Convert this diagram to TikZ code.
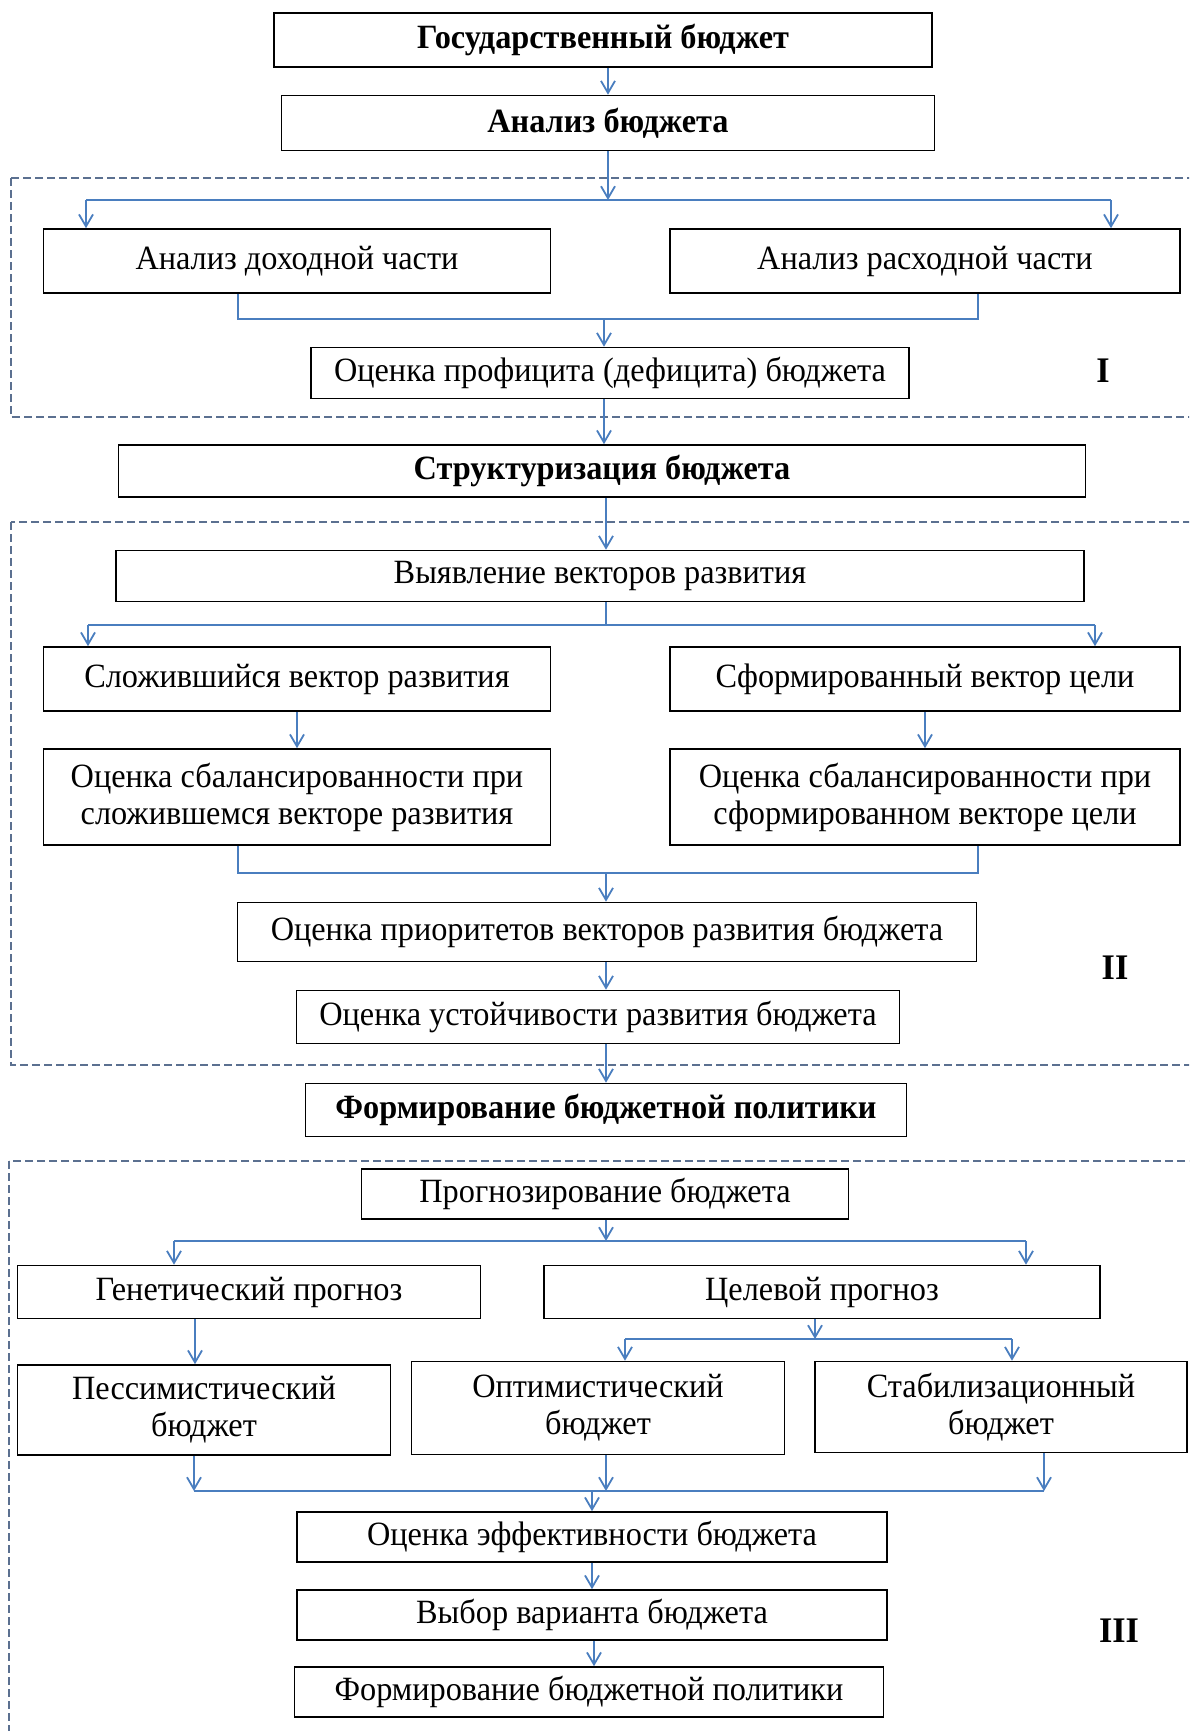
\documentclass[tikz,border=0pt]{standalone}
\usepackage{fontspec}
\setmainfont[FakeStretch=0.95]{Liberation Serif}
\usetikzlibrary{arrows.meta}
\definecolor{linkblue}{HTML}{4A7EBF}
\definecolor{framegray}{HTML}{5B7090}

\begin{document}
\begin{tikzpicture}[x=1pt, y=-1pt,
  box/.style={draw=black, line width=1.6pt, align=center, inner sep=2pt,
    font=\fontsize{34}{37}\selectfont},
  hbox/.style={box, font=\fontsize{34}{37}\selectfont\bfseries},
  line/.style={draw=linkblue, line width=1.8pt},
  arr/.style={line, -{Straight Barb[length=12pt,width=14pt]}},
  frame/.style={draw=framegray, line width=1.4pt, dash pattern=on 8pt off 4pt},
  stage/.style={font=\fontsize{36}{40}\selectfont\bfseries}]

\useasboundingbox (0,0) rectangle (1189,1731);
\clip (0,0) rectangle (1189,1731);

% stage frames
\draw[frame] (11,178) rectangle (1210,417);
\draw[frame] (11,522) rectangle (1210,1065);
\draw[frame] (9,1161) rectangle (1210,1760);

\node (I) at (1103,371) [stage] {I};
\node (II) at (1115,968) [stage] {II};
\node (III) at (1119,1631) [stage] {III};

% stage I
\node (gos) at (603,40) [hbox, minimum width=658pt, minimum height=54pt] {Государственный бюджет};
\node (anb) at (608,123) [hbox, minimum width=653pt, minimum height=55pt] {Анализ бюджета};
\node (doh) at (297,261) [box, minimum width=507pt, minimum height=64pt] {Анализ доходной части};
\node (ras) at (925,261) [box, minimum width=510pt, minimum height=64pt] {Анализ расходной части};
\node (prof) at (610,373) [box, minimum width=598pt, minimum height=51pt] {Оценка профицита (дефицита) бюджета};

\coordinate (s1) at (608,200);
\coordinate (s1l) at (86,200);
\coordinate (s1r) at (1111,200);
\coordinate (j1) at (604,319);
\coordinate (j1l) at (238,319);
\coordinate (j1r) at (978,319);

\draw[arr] (gos.south -| anb.north) -- (anb.north);
\draw[arr] (anb.south) -- (s1);
\draw[line] (s1l) -- (s1r);
\draw[arr] (s1l) -- (s1l |- doh.north);
\draw[arr] (s1r) -- (s1r |- ras.north);
\draw[line] (doh.south -| j1l) -- (j1l) -- (j1r) -- (ras.south -| j1r);
\draw[arr] (j1) -- (j1 |- prof.north);

% stage II
\node (str) at (602,471) [hbox, minimum width=967pt, minimum height=52pt] {Структуризация бюджета};
\node (vyav) at (600,576) [box, minimum width=968pt, minimum height=51pt] {Выявление векторов развития};
\node (slozh) at (297,679) [box, minimum width=507pt, minimum height=64pt] {Сложившийся вектор развития};
\node (sform) at (925,679) [box, minimum width=510pt, minimum height=64pt] {Сформированный вектор цели};
\node (obal1) at (297,797) [box, minimum width=507pt, minimum height=96pt] {Оценка сбалансированности при\\сложившемся векторе развития};
\node (obal2) at (925,797) [box, minimum width=510pt, minimum height=96pt] {Оценка сбалансированности при\\сформированном векторе цели};
\node (prior) at (607,932) [box, minimum width=739pt, minimum height=59pt] {Оценка приоритетов векторов развития бюджета};
\node (ust) at (598,1017) [box, minimum width=603pt, minimum height=53pt] {Оценка устойчивости развития бюджета};

\coordinate (s2) at (606,625);
\coordinate (s2l) at (88,625);
\coordinate (s2r) at (1095,625);
\coordinate (j2) at (606,873);
\coordinate (j2l) at (238,873);
\coordinate (j2r) at (978,873);

\draw[arr] (prof.south -| j1) -- (str.north -| j1);
\draw[arr] (str.south -| s2) -- (vyav.north -| s2);
\draw[line] (vyav.south -| s2) -- (s2);
\draw[line] (s2l) -- (s2r);
\draw[arr] (s2l) -- (s2l |- slozh.north);
\draw[arr] (s2r) -- (s2r |- sform.north);
\draw[arr] (slozh) -- (obal1);
\draw[arr] (sform) -- (obal2);
\draw[line] (obal1.south -| j2l) -- (j2l) -- (j2r) -- (obal2.south -| j2r);
\draw[arr] (j2) -- (j2 |- prior.north);
\draw[arr] (prior.south -| j2) -- (ust.north -| j2);

% stage III
\node (form) at (606,1110) [hbox, minimum width=601pt, minimum height=53pt] {Формирование бюджетной политики};
\node (progn) at (605,1194) [box, minimum width=487pt, minimum height=50pt] {Прогнозирование бюджета};
\node (gen) at (249,1292) [box, minimum width=463pt, minimum height=53pt] {Генетический прогноз};
\node (cel) at (822,1292) [box, minimum width=556pt, minimum height=53pt] {Целевой прогноз};
\node (pes) at (204,1410) [box, minimum width=373pt, minimum height=90pt] {Пессимистический\\бюджет};
\node (opt) at (598,1408) [box, minimum width=373pt, minimum height=93pt] {Оптимистический\\бюджет};
\node (stab) at (1001,1407) [box, minimum width=372pt, minimum height=91pt] {Стабилизационный\\бюджет};
\node (eff) at (592,1537) [box, minimum width=590pt, minimum height=50pt] {Оценка эффективности бюджета};
\node (vyb) at (592,1615) [box, minimum width=590pt, minimum height=50pt] {Выбор варианта бюджета};
\node (form2) at (589,1692) [box, minimum width=589pt, minimum height=50pt] {Формирование бюджетной политики};

\coordinate (s3) at (606,1241);
\coordinate (s3l) at (174,1241);
\coordinate (s3r) at (1026,1241);
\coordinate (s4) at (815,1339);
\coordinate (s4l) at (625,1339);
\coordinate (s4r) at (1012,1339);
\coordinate (j3) at (592,1491);
\coordinate (j3l) at (194,1491);
\coordinate (j3m) at (606,1491);
\coordinate (j3r) at (1044,1491);

\draw[arr] (ust.south -| j2) -- (form.north -| j2);
\draw[arr] (progn.south -| s3) -- (s3);
\draw[line] (s3l) -- (s3r);
\draw[arr] (s3l) -- (s3l |- gen.north);
\draw[arr] (s3r) -- (s3r |- cel.north);
\draw[arr] (gen.south -| 195,0) -- (pes.north -| 195,0);
\draw[arr] (cel.south -| s4) -- (s4);
\draw[line] (s4l) -- (s4r);
\draw[arr] (s4l) -- (s4l |- opt.north);
\draw[arr] (s4r) -- (s4r |- stab.north);
\draw[arr] (pes.south -| j3l) -- (j3l);
\draw[arr] (opt.south -| j3m) -- (j3m);
\draw[arr] (stab.south -| j3r) -- (j3r);
\draw[line] (j3l) -- (j3r);
\draw[arr] (j3) -- (j3 |- eff.north);
\draw[arr] (eff) -- (vyb);
\draw[arr] (vyb.south -| 594,0) -- (form2.north -| 594,0);
\end{tikzpicture}
\end{document}
